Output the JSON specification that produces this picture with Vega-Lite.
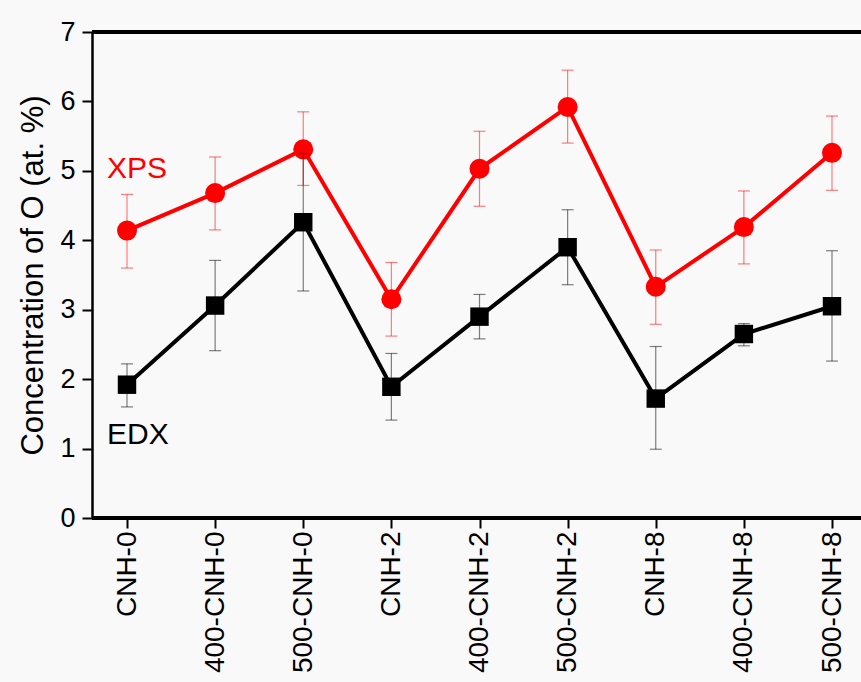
{
  "$schema": "https://vega.github.io/schema/vega-lite/v6.json",
  "autosize": "none",
  "width": 769,
  "height": 486,
  "padding": {"left": 92, "top": 32, "right": 0, "bottom": 164},
  "background": "#f9f9f9",
  "config": {
    "view": {"stroke": null},
    "font": "Liberation Sans",
    "axis": {"labelFont": "Liberation Sans", "titleFont": "Liberation Sans", "labelColor": "#000000", "titleColor": "#000000", "domainColor": "#000000", "tickColor": "#000000", "grid": false}
  },
  "datasets": {
    "pts": [
      {"sample": "CNH-0", "series": "XPS", "value": 4.14, "lo": 3.60, "hi": 4.66},
      {"sample": "400-CNH-0", "series": "XPS", "value": 4.68, "lo": 4.15, "hi": 5.20},
      {"sample": "500-CNH-0", "series": "XPS", "value": 5.31, "lo": 4.79, "hi": 5.85},
      {"sample": "CNH-2", "series": "XPS", "value": 3.15, "lo": 2.62, "hi": 3.68},
      {"sample": "400-CNH-2", "series": "XPS", "value": 5.03, "lo": 4.49, "hi": 5.57},
      {"sample": "500-CNH-2", "series": "XPS", "value": 5.92, "lo": 5.40, "hi": 6.45},
      {"sample": "CNH-8", "series": "XPS", "value": 3.33, "lo": 2.79, "hi": 3.86},
      {"sample": "400-CNH-8", "series": "XPS", "value": 4.19, "lo": 3.66, "hi": 4.71},
      {"sample": "500-CNH-8", "series": "XPS", "value": 5.26, "lo": 4.72, "hi": 5.79},
      {"sample": "CNH-0", "series": "EDX", "value": 1.92, "lo": 1.60, "hi": 2.22},
      {"sample": "400-CNH-0", "series": "EDX", "value": 3.06, "lo": 2.41, "hi": 3.71},
      {"sample": "500-CNH-0", "series": "EDX", "value": 4.26, "lo": 3.27, "hi": 5.25},
      {"sample": "CNH-2", "series": "EDX", "value": 1.89, "lo": 1.41, "hi": 2.37},
      {"sample": "400-CNH-2", "series": "EDX", "value": 2.90, "lo": 2.58, "hi": 3.22},
      {"sample": "500-CNH-2", "series": "EDX", "value": 3.90, "lo": 3.36, "hi": 4.44},
      {"sample": "CNH-8", "series": "EDX", "value": 1.72, "lo": 0.99, "hi": 2.47},
      {"sample": "400-CNH-8", "series": "EDX", "value": 2.65, "lo": 2.48, "hi": 2.80},
      {"sample": "500-CNH-8", "series": "EDX", "value": 3.05, "lo": 2.26, "hi": 3.85}
    ],
    "labels": [
      {"sample": "CNH-0", "series": "XPS", "value": 5.02, "text": "XPS"},
      {"sample": "CNH-0", "series": "EDX", "value": 1.19, "text": "EDX"}
    ]
  },
  "data": {"name": "pts"},
  "encoding": {
    "x": {
      "field": "sample", "type": "nominal",
      "sort": ["CNH-0", "400-CNH-0", "500-CNH-0", "CNH-2", "400-CNH-2", "500-CNH-2", "CNH-8", "400-CNH-8", "500-CNH-8"],
      "scale": {"type": "point", "range": [35, 740], "padding": 0},
      "axis": {"title": null, "labelAngle": -90, "labelFontSize": 28, "labelPadding": 3, "tickSize": 10, "tickWidth": 2, "domain": false, "labelBaseline": "middle"}
    },
    "color": {"field": "series", "type": "nominal", "scale": {"domain": ["XPS", "EDX"], "range": ["#ff0000", "#000000"]}, "legend": null}
  },
  "layer": [
    {
      "mark": {"type": "line", "strokeWidth": 4},
      "encoding": {
        "y": {
          "field": "value", "type": "quantitative",
          "scale": {"domain": [0, 7], "nice": false, "zero": true},
          "axis": {
            "title": "Concentration of O (at. %)",
            "titleFontSize": 31, "titleFontWeight": "normal", "titlePadding": 10,
            "values": [0, 0.5, 1, 1.5, 2, 2.5, 3, 3.5, 4, 4.5, 5, 5.5, 6, 6.5, 7],
            "labelExpr": "datum.value % 1 === 0 ? format(datum.value, 'd') : ''",
            "labelFontSize": 27, "labelPadding": 7,
            "tickSize": {"condition": {"test": "datum.value % 1 === 0", "value": 10}, "value": 5},
            "tickWidth": 2, "domainWidth": 2.5
          }
        },
        "order": {"value": null}
      }
    },
    {
      "mark": {"type": "rule", "color": "#000000", "strokeWidth": 2.5},
      "encoding": {"y": {"datum": 7, "type": "quantitative"}, "x": null, "color": {"value": "#000000"}}
    },
    {
      "mark": {"type": "rule", "color": "#000000", "strokeWidth": 2.5},
      "encoding": {"y": {"datum": 0, "type": "quantitative"}, "x": null, "color": {"value": "#000000"}}
    },
    {
      "mark": {"type": "point", "filled": true, "opacity": 1},
      "encoding": {
        "y": {"field": "value", "type": "quantitative"},
        "shape": {"field": "series", "type": "nominal", "scale": {"domain": ["XPS", "EDX"], "range": ["circle", "square"]}, "legend": null},
        "size": {"field": "series", "type": "nominal", "scale": {"domain": ["XPS", "EDX"], "range": [400, 340]}, "legend": null}
      }
    },
    {
      "mark": {"type": "rule", "strokeWidth": 1.2, "opacity": 0.5},
      "encoding": {
        "y": {"field": "lo", "type": "quantitative"},
        "y2": {"field": "hi"}
      }
    },
    {
      "mark": {"type": "tick", "size": 12, "thickness": 1.2, "opacity": 0.5},
      "encoding": {"y": {"field": "lo", "type": "quantitative"}}
    },
    {
      "mark": {"type": "tick", "size": 12, "thickness": 1.2, "opacity": 0.5},
      "encoding": {"y": {"field": "hi", "type": "quantitative"}}
    },
    {
      "data": {"name": "labels"},
      "mark": {"type": "text", "align": "left", "baseline": "middle", "dx": -20, "fontSize": 30, "font": "Liberation Sans"},
      "encoding": {
        "y": {"field": "value", "type": "quantitative"},
        "text": {"field": "text", "type": "nominal"}
      }
    }
  ]
}
